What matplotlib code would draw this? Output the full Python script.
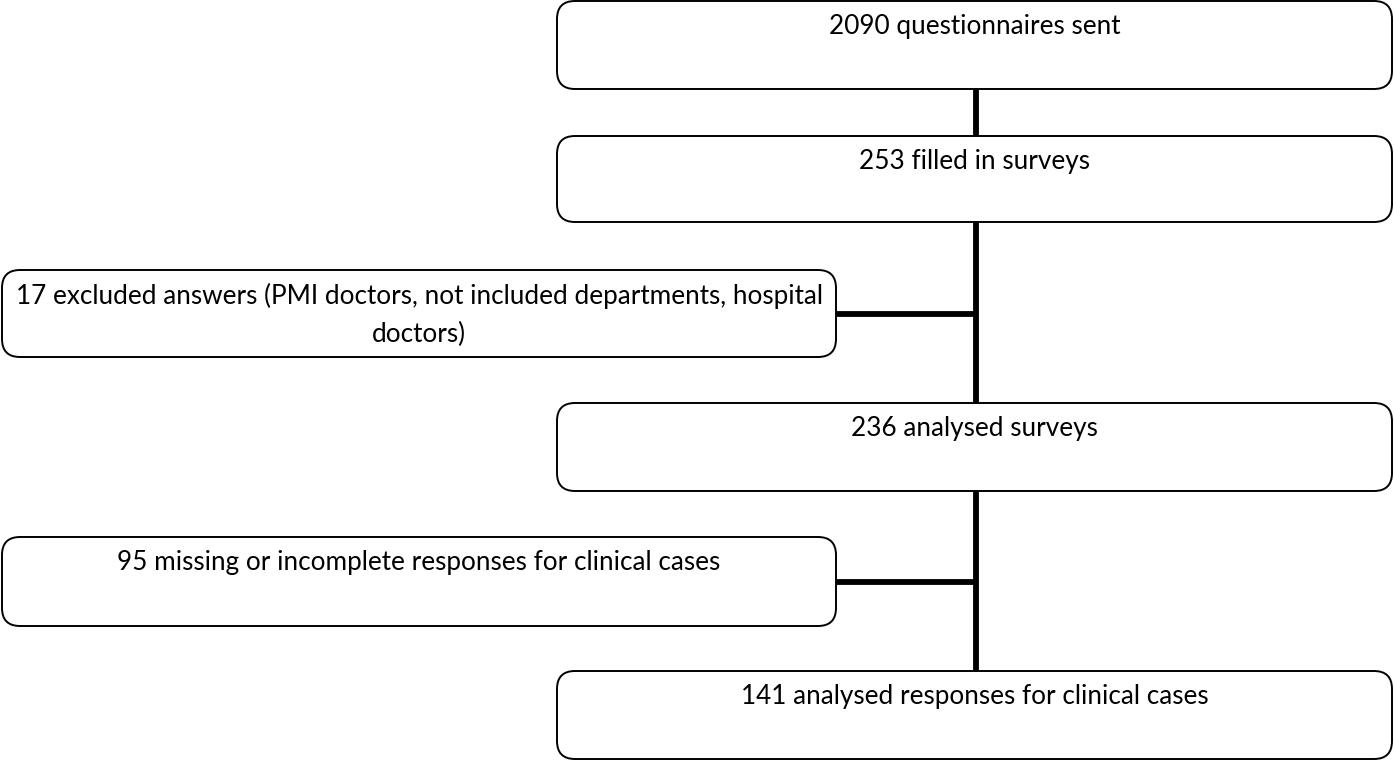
import matplotlib
matplotlib.use("Agg")
import matplotlib.pyplot as plt
from matplotlib.patches import FancyBboxPatch

# Flowchart content
main_labels = [
    "2090 questionnaires sent",
    "253 filled in surveys",
    "236 analysed surveys",
    "141 analysed responses for clinical cases",
]
side_labels = [
    "17 excluded answers (PMI doctors, not included departments, hospital\ndoctors)",
    "95 missing or incomplete responses for clinical cases",
]

# Layout (pixel coordinates, y downward)
W, H = 1394, 761
main_x0, main_x1 = 557, 1392
main_y = [(1, 89), (136, 222), (403, 491), (671, 759)]
side_x0, side_x1 = 2, 836
side_y = [(270, 357), (537, 626)]
spine_x = 976

fig = plt.figure(figsize=(W / 100, H / 100), dpi=100)
ax = fig.add_axes([0, 0, 1, 1])
ax.set_xlim(0, W)
ax.set_ylim(H, 0)
ax.axis("off")

font = dict(family=["Lato", "DejaVu Sans"], fontsize=18.8, color="black")

def box(x0, x1, y0, y1, text):
    p = FancyBboxPatch((x0, y0), x1 - x0, y1 - y0,
                       boxstyle="round,pad=0,rounding_size=18",
                       fc="white", ec="black", lw=1.4, zorder=3)
    ax.add_patch(p)
    ax.text((x0 + x1) / 2, y0 + 13, text, ha="center", va="top",
            linespacing=1.64, zorder=4, **font)

# Connectors
lw = 4.2
for (a, b) in zip(main_y[:-1], main_y[1:]):
    ax.plot([spine_x, spine_x], [a[1], b[0]], color="black", lw=lw,
            solid_capstyle="butt", zorder=2)
for (y0, y1) in side_y:
    ym = (y0 + y1) / 2
    ax.plot([side_x1, spine_x], [ym, ym], color="black", lw=lw,
            solid_capstyle="butt", zorder=2)

for (y0, y1), t in zip(main_y, main_labels):
    box(main_x0, main_x1, y0, y1, t)
for (y0, y1), t in zip(side_y, side_labels):
    box(side_x0, side_x1, y0, y1, t)

fig.savefig("out.png", dpi=100, facecolor="white")
